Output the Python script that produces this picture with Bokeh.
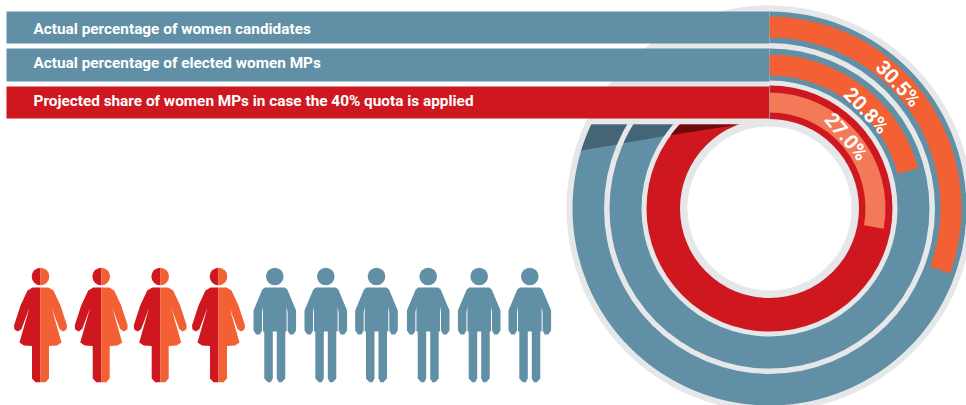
import numpy as np
from bokeh.plotting import figure
from bokeh.models import Range1d
from bokeh.core.properties import value
from bokeh.embed import file_html
from bokeh.resources import INLINE

labels = ["Actual percentage of women candidates", "Actual percentage of elected women MPs",
          "Projected share of women MPs in case the  40% quota is applied"]
percents = [30.5, 20.8, 27.8]  # arc lengths as drawn in the picture
percent_labels = ["30.5%", "20.8%", "27.0%"]
women_count = 4
men_count = 6

TEAL, RED, ORANGE, LIGHT = "#618fa5", "#cf171f", "#f26033", "#f47959"
GRAY, DTEAL, DRED = "#e6e7e9", "#456475", "#6f0a0c"
W, H = 966, 405
CX, CY = 769.0, 208.0


def Y(v):
    return H - np.asarray(v, dtype=float)


p = figure(width=W, height=H, output_backend="svg", toolbar_location=None, min_border=0,
           x_range=Range1d(0, W), y_range=Range1d(0, H),
           outline_line_color=None, background_fill_color="white", border_fill_color="white")
p.axis.visible = False
p.grid.visible = False

cy = float(Y(CY))
rings = [(165.5, 197, TEAL, DTEAL, (171, 192), ORANGE), (128, 160, TEAL, DTEAL, (133, 154), ORANGE),
         (89.5, 123, RED, DRED, (96, 116), LIGHT)]

p.circle(x=[CX], y=[cy], radius=203, fill_color=GRAY, line_color=None)
p.circle(x=[CX], y=[cy], radius=82, fill_color="white", line_color=None)
for r0, r1, col, _, _, _ in rings:
    p.annulus(x=[CX], y=[cy], inner_radius=r0, outer_radius=r1, fill_color=col, line_color=None)

# grey cap hiding the rings in the top-left quadrant behind the bars
cap_y = 124.0
a0 = np.arcsin((CY - cap_y) / 203)
ang = np.linspace(np.pi - a0, np.pi / 2, 80)
cap_x = list(CX + 203 * np.cos(ang)) + [CX]
cap_yy = list(cy + 203 * np.sin(ang)) + [float(Y(cap_y))]
p.patch(cap_x, cap_yy, fill_color=GRAY, line_color=None)
# keep the hole white
p.annular_wedge(x=[CX], y=[cy], inner_radius=0, outer_radius=82, start_angle=np.pi / 2, end_angle=np.pi,
                fill_color="white", line_color=None)

# shadow cast by the bars on the rings
sx0, sy0, sx1, sy1 = 581.0, 150.0, 738.0, 123.0


def on_line(r):
    t = np.linspace(0, 1, 4000)
    xs = sx0 + (sx1 - sx0) * t
    ys = sy0 + (sy1 - sy0) * t
    d = np.abs(np.hypot(xs - CX, ys - CY) - r)
    i = np.argmin(d)
    return np.arctan2(CY - ys[i], xs[i] - CX)


for r0, r1, _, dark, _, _ in rings:
    top1 = np.pi - np.arcsin((CY - cap_y) / r1)
    top0 = np.pi - np.arcsin((CY - cap_y) / r0)
    l1, l0 = on_line(r1), on_line(r0)
    a = np.linspace(l1, top1, 30)
    b = np.linspace(top0, l0, 30)
    xs = list(CX + r1 * np.cos(a)) + list(CX + r0 * np.cos(b))
    ys = list(cy + r1 * np.sin(a)) + list(cy + r0 * np.sin(b))
    p.patch(xs, ys, fill_color=dark, line_color=None)

# bars
tops = [11, 48, 86]
bots = [43, 81, 118]
cols = [TEAL, TEAL, RED]
p.quad(left=6, right=CX, top=Y(tops), bottom=Y(bots), fill_color=cols, line_color=None)
p.segment(x0=[CX] * 3, x1=[CX] * 3, y0=Y(tops), y1=Y(bots), line_color="#8fb0c0", line_width=0.7)

# value arcs
for pct, (_, _, _, _, (a, b), c) in zip(percents, rings):
    p.annular_wedge(x=[CX], y=[cy], inner_radius=a, outer_radius=b, start_angle=np.pi / 2,
                    end_angle=np.pi / 2 - pct / 100 * 2 * np.pi, direction="clock", fill_color=c, line_color=None)

p.text(x=[33, 33, 33], y=Y([28.2, 62, 100.8]), text=labels, text_font=value("Roboto"), text_font_style="bold",
       text_font_size="15.35px", text_color="white", text_baseline="middle")

p.text(x=[898, 866, 846], y=Y([83, 110, 136]), text=percent_labels, text_color="white",
       angle=[np.radians(-47), np.radians(-47), np.radians(-50)], text_align="center", text_baseline="middle",
       text_font=value("Roboto"), text_font_style="bold", text_font_size="20px")

# pictograms (local coordinates in px from centre line / head centre)
W_HALF = np.array([(0, 11), (-8, 11), (-13, 14), (-20, 29), (-26.5, 49), (-26, 53), (-22.5, 55), (-19, 52.5),
                   (-11, 31), (-21, 66), (-16.5, 69), (-8.5, 69.5), (-8.5, 102), (-5, 105.7), (0, 105.7)])
M_HALF = np.array([(0, 11), (-10, 11), (-12.5, 13), (-21.3, 34), (-21.3, 54), (-18.5, 58), (-15, 58), (-12.8, 54),
                   (-12.8, 36), (-11.8, 30), (-11.8, 55), (-10.5, 55), (-10.5, 102), (-7, 105.7), (-4, 105.7),
                   (-2, 102), (-2, 55), (0, 55)])
w_centres = [40, 100.7, 159.7, 218]
m_centres = [274.3, 325.3, 376, 427.7, 478.7, 529.3]
hy = 276.0
for c in w_centres[:women_count]:
    p.patch(c + W_HALF[:, 0], Y(hy + W_HALF[:, 1]), fill_color=RED, line_color=None)
    p.patch(c - W_HALF[:, 0], Y(hy + W_HALF[:, 1]), fill_color=ORANGE, line_color=None)
    p.wedge(x=[c], y=[Y(hy)], radius=8.8, start_angle=np.pi / 2, end_angle=-np.pi / 2, fill_color=RED, line_color=None)
    p.wedge(x=[c], y=[Y(hy)], radius=8.8, start_angle=-np.pi / 2, end_angle=np.pi / 2, fill_color=ORANGE, line_color=None)
for c in m_centres[:men_count]:
    xs = np.concatenate([c + M_HALF[:, 0], (c - M_HALF[:, 0])[::-1]])
    ys = np.concatenate([M_HALF[:, 1], M_HALF[::-1, 1]])
    p.patch(xs, Y(hy + ys), fill_color=TEAL, line_color=None)
    p.circle(x=[c], y=[Y(hy)], radius=8.8, fill_color=TEAL, line_color=None)

open("out.html", "w").write(file_html(p, INLINE))
